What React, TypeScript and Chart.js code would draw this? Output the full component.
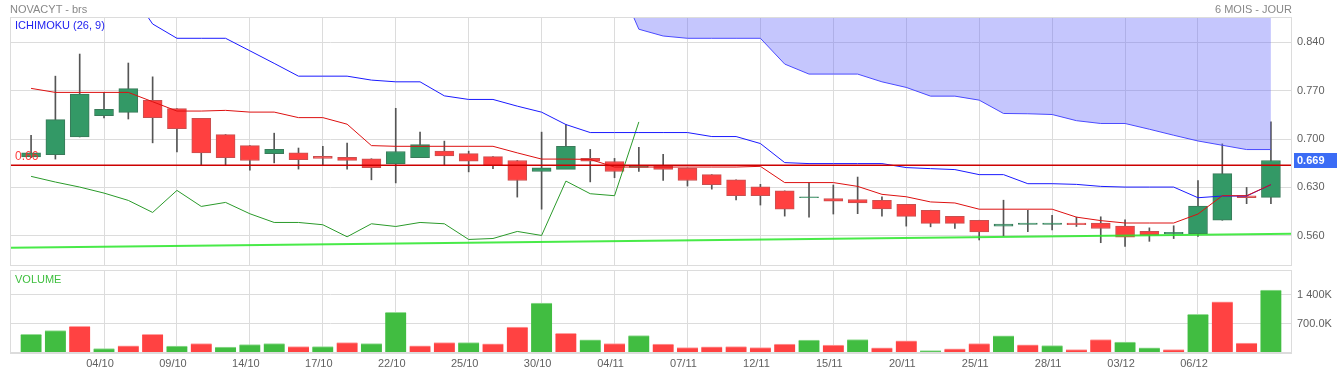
import React, { useEffect, useRef } from 'react';
import { Chart, registerables } from 'chart.js';

Chart.register(...registerables);

// ---------- data ----------
const dates = [
  '01/10', '02/10', '03/10', '04/10', '07/10', '08/10', '09/10', '10/10', '11/10', '14/10',
  '15/10', '16/10', '17/10', '18/10', '21/10', '22/10', '23/10', '24/10', '25/10', '28/10',
  '29/10', '30/10', '31/10', '01/11', '04/11', '05/11', '06/11', '07/11', '08/11', '11/11',
  '12/11', '13/11', '14/11', '15/11', '18/11', '19/11', '20/11', '21/11', '22/11', '25/11',
  '26/11', '27/11', '28/11', '29/11', '02/12', '03/12', '04/12', '05/12', '06/12', '09/12',
  '10/12', '11/12',
];
const tickDates = ['04/10', '09/10', '14/10', '17/10', '22/10', '25/10', '30/10', '04/11', '07/11', '12/11', '15/11', '20/11', '25/11', '28/11', '03/12', '06/12'];

const openP = [
  0.674, 0.6775, 0.703, 0.734, 0.7385, 0.756, 0.744, 0.730, 0.7065, 0.6905,
  0.679, 0.680, 0.675, 0.6735, 0.6715, 0.664, 0.673, 0.6825, 0.679, 0.6745,
  0.669, 0.653, 0.656, 0.672, 0.6675, 0.659, 0.661, 0.658, 0.6485, 0.641,
  0.631, 0.625, 0.615, 0.614, 0.6125, 0.6115, 0.6055, 0.597, 0.588, 0.5825,
  0.574, 0.5765, 0.5765, 0.5785, 0.5785, 0.574, 0.5665, 0.563, 0.563, 0.5825,
  0.618, 0.6155,
];
const closeP = [
  0.680, 0.728, 0.765, 0.743, 0.773, 0.731, 0.715, 0.680, 0.673, 0.669,
  0.685, 0.670, 0.672, 0.669, 0.6585, 0.682, 0.692, 0.6755, 0.668, 0.6615,
  0.640, 0.6585, 0.6895, 0.668, 0.653, 0.661, 0.656, 0.640, 0.634, 0.618,
  0.618, 0.5985, 0.6165, 0.610, 0.6075, 0.599, 0.588, 0.578, 0.578, 0.5655,
  0.577, 0.5785, 0.5785, 0.576, 0.5705, 0.558, 0.561, 0.565, 0.603, 0.650,
  0.615, 0.669,
];
const highP = [
  0.7055, 0.791, 0.823, 0.7675, 0.810, 0.790, 0.744, 0.730, 0.7065, 0.6905,
  0.7085, 0.687, 0.6895, 0.694, 0.6715, 0.7445, 0.710, 0.697, 0.6825, 0.6745,
  0.669, 0.710, 0.721, 0.685, 0.672, 0.688, 0.678, 0.658, 0.6485, 0.641,
  0.6345, 0.625, 0.637, 0.6335, 0.645, 0.6165, 0.6055, 0.597, 0.588, 0.5825,
  0.6115, 0.597, 0.5895, 0.587, 0.5875, 0.583, 0.5715, 0.5745, 0.640, 0.693,
  0.630, 0.725,
];
const lowP = [
  0.673, 0.671, 0.703, 0.7305, 0.729, 0.6945, 0.6815, 0.662, 0.662, 0.655,
  0.6655, 0.6565, 0.662, 0.6565, 0.641, 0.6365, 0.673, 0.662, 0.6525, 0.657,
  0.616, 0.5985, 0.657, 0.638, 0.644, 0.653, 0.640, 0.632, 0.6275, 0.612,
  0.6045, 0.5885, 0.587, 0.5915, 0.592, 0.5885, 0.574, 0.573, 0.5705, 0.554,
  0.560, 0.566, 0.5685, 0.5735, 0.550, 0.5445, 0.552, 0.556, 0.559, 0.5825,
  0.6065, 0.6065,
];

// Ichimoku lines
const tenkan = [
  0.7733, 0.7675, 0.7675, 0.7675, 0.7675, 0.754, 0.7405, 0.7405, 0.7415, 0.739,
  0.739, 0.731, 0.731, 0.7215, 0.6905, 0.6895, 0.6895, 0.6895, 0.6895, 0.6895,
  0.680, 0.671, 0.671, 0.6705, 0.6595, 0.6595, 0.6595, 0.6595, 0.6595, 0.6595,
  0.6605, 0.637, 0.637, 0.637, 0.6315, 0.620, 0.6165, 0.609, 0.6075, 0.5985,
  0.5985, 0.5985, 0.5985, 0.587, 0.582, 0.5785, 0.5785, 0.5785, 0.5915, 0.618,
  0.618, 0.634,
];
const kijun = [
  null, null, null, null, 0.918, 0.8665, 0.8458, 0.8458, 0.8458, 0.8277,
  0.8095, 0.791, 0.791, 0.791, 0.7853, 0.7828, 0.7828, 0.7625, 0.7573, 0.7573,
  0.7476, 0.7389, 0.721, 0.7094, 0.7094, 0.7094, 0.7094, 0.7094, 0.7036, 0.7036,
  0.6935, 0.6659, 0.6645, 0.6645, 0.6645, 0.6645, 0.6587, 0.6572, 0.6558, 0.6485,
  0.6485, 0.6354, 0.6354, 0.6344, 0.6315, 0.6305, 0.6305, 0.6305, 0.6151, 0.6175,
  0.6175, 0.634,
];
const chikou = [
  0.646, 0.6378, 0.6305, 0.6218, 0.6112, 0.5938, 0.6257, 0.6025, 0.6083, 0.5919,
  0.5793, 0.5793, 0.576, 0.5586, 0.5774, 0.5735, 0.5793, 0.5774, 0.5547, 0.5561,
  0.5663, 0.5605, 0.6392, 0.6209, 0.618, 0.7248,
];
const cloudStart = 24;
const cloudLower = [
  0.940, 0.8589, 0.8491, 0.8458, 0.8458, 0.8458, 0.8458, 0.8085, 0.794, 0.794,
  0.794, 0.7828, 0.7747, 0.7621, 0.7621, 0.7563, 0.737, 0.7366, 0.7355, 0.7266,
  0.7225, 0.7225, 0.7142, 0.7055, 0.6972, 0.691, 0.6848, 0.6848,
];
const cloudUpper = cloudLower.map(() => 1.0);
const trendStart = 0.5426;
const trendEnd = 0.5629;
const refLevel = 0.662;
const refLabel = '0.66';
const lastPrice = 0.669;

const volumes = [
  447000, 543000, 640000, 109000, 174000, 447000, 164000, 229000, 140000, 205000,
  229000, 157000, 157000, 253000, 229000, 978000, 174000, 253000, 253000, 222000,
  623000, 1202000, 471000, 318000, 229000, 422000, 213000, 133000, 150000, 157000,
  133000, 213000, 310000, 189000, 326000, 125000, 294000, 60000, 101000, 229000,
  415000, 198000, 181000, 85000, 326000, 261000, 125000, 85000, 929000, 1236000,
  237000, 1516000,
];
const volDir = [
  1, 1, -1, 1, -1, -1, 1, -1, 1, 1,
  1, -1, 1, -1, 1, 1, -1, -1, 1, -1,
  -1, 1, -1, 1, -1, 1, -1, -1, -1, -1,
  -1, -1, 1, -1, 1, -1, -1, 1, -1, -1,
  1, -1, 1, -1, -1, 1, 1, -1, 1, -1,
  -1, 1,
];

const priceTicks = [0.56, 0.63, 0.70, 0.77, 0.84];
const volTicks = [700000, 1400000];
const volTickLabels = ['700.0K', '1 400K'];

// ---------- styling ----------
const FONT = '"Liberation Sans", Arial, Helvetica, sans-serif';
const GRID = '#dcdcdc';
const TICK_COLOR = '#606060';
const X_MIN = -0.867;
const X_MAX = 51.867;
const P_MIN = 0.5163;
const P_MAX = 0.8766;
const V_MAX = 2000000;

const tickIdx = tickDates.map((d) => dates.indexOf(d));

const noPad = (s: any) => {
  s.paddingTop = 0;
  s.paddingBottom = 0;
  s.paddingLeft = 0;
  s.paddingRight = 0;
};

const framePlugin = {
  id: 'frame',
  afterDraw(chart: any) {
    const { ctx, chartArea } = chart;
    ctx.save();
    ctx.strokeStyle = GRID;
    ctx.lineWidth = 1;
    ctx.strokeRect(
      Math.round(chartArea.left) + 0.5,
      Math.round(chartArea.top) + 0.5,
      Math.round(chartArea.right - chartArea.left) - 1,
      Math.round(chartArea.bottom - chartArea.top) - 1,
    );
    ctx.restore();
  },
};

const pricePlugin = {
  id: 'priceLabels',
  afterDraw(chart: any) {
    const { ctx, chartArea, scales } = chart;
    const yRef = scales.y.getPixelForValue(refLevel);
    const yLast = scales.y.getPixelForValue(lastPrice);
    ctx.save();
    ctx.font = '12px ' + FONT;
    ctx.fillStyle = 'rgba(255,40,40,0.9)';
    ctx.textBaseline = 'alphabetic';
    ctx.textAlign = 'left';
    ctx.fillText(refLabel, chartArea.left + 5, yRef - 5);
    // last price box
    ctx.fillStyle = '#3b6cf5';
    ctx.fillRect(chartArea.right + 2, Math.round(yLast - 7.5), 1337 - chartArea.right - 2, 15);
    ctx.fillStyle = '#ffffff';
    ctx.font = 'bold 11px ' + FONT;
    ctx.textBaseline = 'middle';
    ctx.fillText(lastPrice.toFixed(3), chartArea.right + 5, yLast + 0.5);
    ctx.restore();
  },
};

export default function App() {
  const mainRef = useRef<HTMLCanvasElement>(null);
  const volRef = useRef<HTMLCanvasElement>(null);

  useEffect(() => {
    if (!mainRef.current || !volRef.current) return;
    Chart.defaults.font.family = FONT;

    const idx = dates.map((_, i) => i);
    const pts = (arr: (number | null)[], start = 0) =>
      arr
        .map((v, k) => (v === null ? null : { x: k + start, y: v }))
        .filter((p) => p !== null);

    const lineBase = {
      type: 'line' as const,
      pointRadius: 0,
      pointHoverRadius: 0,
      tension: 0,
      fill: false,
      borderWidth: 1,
    };

    const main = new Chart(mainRef.current, {
      type: 'bar',
      data: {
        datasets: [
          {
            type: 'bar',
            label: 'wick',
            data: idx.map((i) => ({ x: i, y: [lowP[i], highP[i]] })) as any,
            backgroundColor: '#555555',
            barThickness: 1,
            grouped: false,
            order: 20,
          } as any,
          {
            type: 'bar',
            label: 'body',
            data: idx.map((i) => ({ x: i, y: [openP[i], closeP[i]] })) as any,
            backgroundColor: idx.map((i) => (closeP[i] >= openP[i] ? '#339966' : '#ff4040')),
            borderColor: idx.map((i) => (closeP[i] >= openP[i] ? '#3a7a5a' : '#c85050')),
            borderWidth: 1,
            borderSkipped: false,
            barThickness: 19,
            grouped: false,
            order: 19,
          } as any,
          {
            ...lineBase,
            label: 'cloudUpper',
            data: pts(cloudUpper, cloudStart),
            borderWidth: 0,
            borderColor: 'rgba(0,0,0,0)',
            order: 8,
          } as any,
          {
            ...lineBase,
            label: 'cloudLower',
            data: pts(cloudLower, cloudStart),
            borderColor: '#4a4aff',
            backgroundColor: 'rgba(100,102,250,0.374)',
            fill: '-1',
            order: 7,
          } as any,
          {
            ...lineBase,
            label: 'trend',
            data: [
              { x: X_MIN, y: trendStart },
              { x: X_MAX, y: trendEnd },
            ],
            borderColor: 'rgba(40,230,40,0.85)',
            borderWidth: 2,
            order: 6,
          } as any,
          {
            ...lineBase,
            label: 'chikou',
            data: pts(chikou),
            borderColor: '#2a9a2a',
            order: 5,
          } as any,
          {
            ...lineBase,
            label: 'kijun',
            data: pts(kijun),
            borderColor: '#1a1aff',
            order: 4,
          } as any,
          {
            ...lineBase,
            label: 'tenkan',
            data: pts(tenkan),
            borderColor: '#dd1010',
            order: 3,
          } as any,
          {
            ...lineBase,
            label: 'ref',
            data: [
              { x: X_MIN, y: refLevel },
              { x: X_MAX, y: refLevel },
            ],
            borderColor: '#cc0000',
            borderWidth: 1.5,
            order: 1,
          } as any,
        ],
      },
      options: {
        responsive: false,
        animation: false,
        events: [],
        layout: { padding: { left: 10, top: 17, bottom: 2, right: 0 } },
        plugins: { legend: { display: false }, tooltip: { enabled: false } },
        scales: {
          x: {
            type: 'linear',
            min: X_MIN,
            max: X_MAX,
            offset: false,
            afterBuildTicks: (s: any) => {
              s.ticks = tickIdx.map((v) => ({ value: v }));
            },
            afterFit: (s: any) => {
              s.height = 0;
              noPad(s);
            },
            ticks: { display: false },
            grid: { color: GRID, drawTicks: false, offset: false },
            border: { display: false },
          },
          y: {
            type: 'linear',
            position: 'right',
            min: P_MIN,
            max: P_MAX,
            afterBuildTicks: (s: any) => {
              s.ticks = priceTicks.map((v) => ({ value: v }));
            },
            afterFit: (s: any) => {
              s.width = 45;
              noPad(s);
            },
            ticks: {
              callback: (v: any) => Number(v).toFixed(3),
              color: TICK_COLOR,
              font: { size: 11, family: FONT },
              padding: 5,
            },
            grid: { color: GRID, drawTicks: false },
            border: { display: false },
          },
        },
      } as any,
      plugins: [framePlugin, pricePlugin],
    });

    const vol = new Chart(volRef.current, {
      type: 'bar',
      data: {
        datasets: [
          {
            label: 'volume',
            data: idx.map((i) => ({ x: i, y: volumes[i] })) as any,
            backgroundColor: volDir.map((d) => (d > 0 ? '#41bd41' : '#ff4242')),
            borderColor: volDir.map((d) => (d > 0 ? '#96dc96' : '#ffa0a0')),
            borderWidth: { top: 1, left: 0, right: 0, bottom: 0 },
            borderSkipped: 'start',
            barThickness: 21,
          } as any,
        ],
      },
      options: {
        responsive: false,
        animation: false,
        events: [],
        layout: { padding: { left: 10, top: 2, bottom: 0, right: 0 } },
        plugins: { legend: { display: false }, tooltip: { enabled: false } },
        scales: {
          x: {
            type: 'linear',
            min: X_MIN,
            max: X_MAX,
            offset: false,
            afterBuildTicks: (s: any) => {
              s.ticks = tickIdx.map((v) => ({ value: v }));
            },
            afterFit: (s: any) => {
              s.height = 20;
              noPad(s);
            },
            ticks: {
              callback: (v: any) => dates[Math.round(Number(v))] ?? '',
              color: TICK_COLOR,
              font: { size: 11, family: FONT },
              padding: 4,
              labelOffset: -4,
              maxRotation: 0,
              autoSkip: false,
            },
            grid: { color: GRID, drawTicks: false, offset: false },
            border: { display: false },
          },
          y: {
            type: 'linear',
            position: 'right',
            min: 0,
            max: V_MAX,
            afterBuildTicks: (s: any) => {
              s.ticks = [0, ...volTicks, V_MAX].map((v) => ({ value: v }));
            },
            afterFit: (s: any) => {
              s.width = 45;
              noPad(s);
            },
            ticks: {
              callback: (v: any) => {
                const k = volTicks.indexOf(Number(v));
                return k >= 0 ? volTickLabels[k] : '';
              },
              color: TICK_COLOR,
              font: { size: 11, family: FONT },
              padding: 5,
            },
            grid: { color: GRID, drawTicks: false },
            border: { display: false },
          },
        },
      } as any,
      plugins: [framePlugin],
    });

    return () => {
      main.destroy();
      vol.destroy();
    };
  }, []);

  const txt = (extra: React.CSSProperties): React.CSSProperties => ({
    position: 'absolute',
    fontFamily: FONT,
    fontSize: 11,
    lineHeight: '11px',
    whiteSpace: 'nowrap',
    ...extra,
  });

  return (
    <div
      style={{
        position: 'fixed',
        left: 0,
        top: 0,
        width: 1337,
        height: 373,
        background: '#ffffff',
        overflow: 'hidden',
      }}
    >
      <canvas ref={mainRef} width={1337} height={268} style={{ position: 'absolute', left: 0, top: 0 }} />
      <canvas ref={volRef} width={1337} height={105} style={{ position: 'absolute', left: 0, top: 268 }} />
      <div style={txt({ left: 10, top: 3.6, color: '#888888' })}>NOVACYT - brs</div>
      <div style={txt({ right: 45, top: 3.6, color: '#888888' })}>6 MOIS - JOUR</div>
      <div style={txt({ left: 15, top: 20.3, color: '#2323f0' })}>ICHIMOKU (26, 9)</div>
      <div style={txt({ left: 15, top: 273.6, color: '#3fbf3f' })}>VOLUME</div>
    </div>
  );
}
